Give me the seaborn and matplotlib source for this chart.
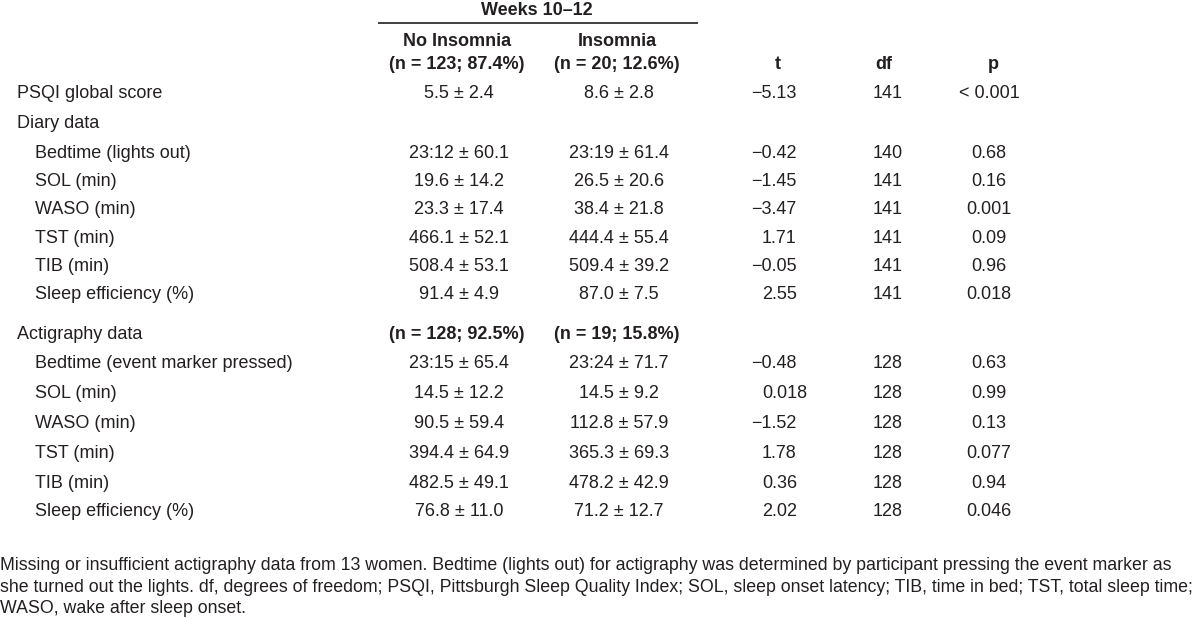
import matplotlib
matplotlib.use('Agg')
import matplotlib.pyplot as plt
import seaborn as sns

sns.set_style("white")
plt.rcParams['font.family'] = ['Liberation Sans Narrow', 'Liberation Sans', 'DejaVu Sans']

# table content
row_labels = ['PSQI global score', 'Diary data',
              'Bedtime (lights out)', 'SOL (min)', 'WASO (min)', 'TST (min)',
              'TIB (min)', 'Sleep efficiency (%)',
              'Actigraphy data',
              'Bedtime (event marker pressed)', 'SOL (min)', 'WASO (min)', 'TST (min)',
              'TIB (min)', 'Sleep efficiency (%)']
row_indent = [0, 0, 1, 1, 1, 1, 1, 1, 0, 1, 1, 1, 1, 1, 1]
no_insomnia = ['5.5 ± 2.4', '',
               '23:12 ± 60.1', '19.6 ± 14.2', '23.3 ± 17.4', '466.1 ± 52.1',
               '508.4 ± 53.1', '91.4 ± 4.9',
               '(n = 128; 92.5%)',
               '23:15 ± 65.4', '14.5 ± 12.2', '90.5 ± 59.4', '394.4 ± 64.9',
               '482.5 ± 49.1', '76.8 ± 11.0']
insomnia = ['8.6 ± 2.8', '',
            '23:19 ± 61.4', '26.5 ± 20.6', '38.4 ± 21.8', '444.4 ± 55.4',
            '509.4 ± 39.2', '87.0 ± 7.5',
            '(n = 19; 15.8%)',
            '23:24 ± 71.7', '14.5 ± 9.2', '112.8 ± 57.9', '365.3 ± 69.3',
            '478.2 ± 42.9', '71.2 ± 12.7']
t_vals = ['−5.13', '', '−0.42', '−1.45', '−3.47', '1.71', '−0.05', '2.55', '',
          '−0.48', '0.018', '−1.52', '1.78', '0.36', '2.02']
df_vals = ['141', '', '140', '141', '141', '141', '141', '141', '',
           '128', '128', '128', '128', '128', '128']
p_vals = ['< 0.001', '', '0.68', '0.16', '0.001', '0.09', '0.96', '0.018', '',
          '0.63', '0.99', '0.13', '0.077', '0.94', '0.046']

header_span = 'Weeks 10–12'
col_heads = [('No Insomnia', '(n = 123; 87.4%)'), ('Insomnia', '(n = 20; 12.6%)')]
stat_heads = ['t', 'df', 'p']

footnote = ['Missing or insufficient actigraphy data from 13 women. Bedtime (lights out) for actigraphy was determined by participant pressing the event marker as',
            'she turned out the lights. df, degrees of freedom; PSQI, Pittsburgh Sleep Quality Index; SOL, sleep onset latency; TIB, time in bed; TST, total sleep time;',
            'WASO, wake after sleep onset.']

# layout (pixels, baselines)
row_base = [98, 128, 158, 186, 214, 243, 271, 299, 339, 368, 398, 428, 458, 488, 516]
col_x = [459, 619]
t_x, df_x, p_x = 762, 888, 989
fs = 13
ink = '#231f20'

fig, ax = plt.subplots(figsize=(12, 6.18), dpi=100)
fig.subplots_adjust(0, 0, 1, 1)
ax.set_xlim(0, 1200)
ax.set_ylim(618, 0)
ax.axis('off')


def txt(x, y, s, ha='left', bold=False, size=fs):
    return ax.text(x, y, s, ha=ha, va='baseline', fontsize=size,
                   fontweight='bold' if bold else 'normal', color=ink)


# header
txt(537, 15, header_span, ha='center', bold=True)
ax.hlines(23, 378, 698, color=ink, lw=1.2)
for cx, (h1, h2) in zip(col_x, col_heads):
    txt(cx - 2, 46, h1, ha='center', bold=True)
    txt(cx - 2, 69, h2, ha='center', bold=True)
for sx, head in zip([778, 884, 993], stat_heads):
    txt(sx, 69, head, ha='center', bold=True)

for i, y in enumerate(row_base):
    txt(17 + 18 * row_indent[i], y, row_labels[i])
    for cx, vals in zip(col_x, [no_insomnia, insomnia]):
        v = vals[i]
        if v:
            txt(cx - (2 if v.startswith('(') else 0), y, v, ha='center', bold=v.startswith('('))
    tv = t_vals[i]
    if tv:
        txt(t_x - 11 if tv.startswith('−') else t_x, y, tv)
    txt(df_x, y, df_vals[i], ha='center')
    txt(p_x, y, p_vals[i], ha='center')

# footnote, shrunk so the longest line fits the page width
notes = [txt(0, 570 + 21.5 * k, line) for k, line in enumerate(footnote)]
fig.canvas.draw()
widest = max(n.get_window_extent().width for n in notes)
for n in notes:
    n.set_fontsize(fs * min(1.0, 1196 / widest))

fig.savefig('out.png', dpi=100)
